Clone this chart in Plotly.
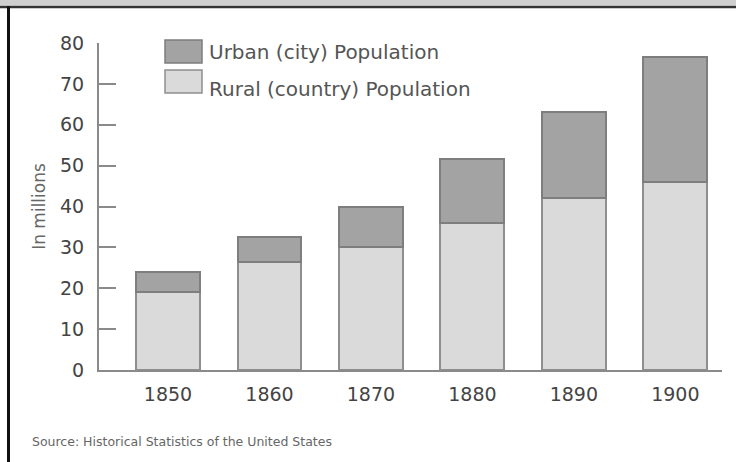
import plotly.graph_objects as go

years = ["1850", "1860", "1870", "1880", "1890", "1900"]
rural = [19.0, 26.5, 30.2, 36.0, 42.0, 46.0]
urban = [5.0, 6.0, 9.8, 15.5, 21.0, 30.6]
y_ticks = [0, 10, 20, 30, 40, 50, 60, 70, 80]

W, H = 736, 462
L, R, T, B = 99, 14, 43, 92
PW, PH = W - L - R, H - T - B


def px(x):
    return (x - L) / PW


def py(y):
    return 1 - (y - T) / PH


FONT = "DejaVu Sans, Verdana, sans-serif"
URBAN_FILL, URBAN_LINE = "#a3a3a3", "#7e7e7e"
RURAL_FILL, RURAL_LINE = "#dadada", "#8e8e8e"

fig = go.Figure()
fig.add_trace(go.Bar(x=years, y=rural, name="Rural (country) Population",
                     marker=dict(color=RURAL_FILL, line=dict(color=RURAL_LINE, width=2)),
                     width=0.63, showlegend=False))
fig.add_trace(go.Bar(x=years, y=urban, name="Urban (city) Population",
                     marker=dict(color=URBAN_FILL, line=dict(color=URBAN_LINE, width=2)),
                     width=0.63, showlegend=False))

shapes = [
    # frame: top band and dark line, left black line
    dict(type="rect", xref="paper", yref="paper", x0=px(0), x1=px(W), y0=py(0), y1=py(5.5),
         fillcolor="#cfcfcf", line=dict(width=0), layer="above"),
    dict(type="line", xref="paper", yref="paper", x0=px(0), x1=px(W), y0=py(7), y1=py(7),
         line=dict(color="#333333", width=2.5)),
    dict(type="line", xref="paper", yref="paper", x0=px(8.5), x1=px(8.5), y0=py(6), y1=py(H),
         line=dict(color="#111111", width=3)),
    # legend swatches
    dict(type="rect", xref="paper", yref="paper", x0=px(165), x1=px(202), y0=py(40), y1=py(63),
         fillcolor=URBAN_FILL, line=dict(color=URBAN_LINE, width=1.5)),
    dict(type="rect", xref="paper", yref="paper", x0=px(165), x1=px(202), y0=py(70), y1=py(93),
         fillcolor=RURAL_FILL, line=dict(color=RURAL_LINE, width=1.5)),
]

annotations = [
    dict(text="Urban (city) Population", xref="paper", yref="paper", x=px(207), y=py(52),
         xanchor="left", yanchor="middle", showarrow=False,
         font=dict(family=FONT, size=20, color="#555555")),
    dict(text="Rural (country) Population", xref="paper", yref="paper", x=px(207), y=py(89),
         xanchor="left", yanchor="middle", showarrow=False,
         font=dict(family=FONT, size=20, color="#555555")),
    dict(text="Source: Historical Statistics of the United States", xref="paper", yref="paper",
         x=px(30), y=py(441), xanchor="left", yanchor="middle", showarrow=False,
         font=dict(family=FONT, size=12.5, color="#666666")),
]

fig.update_layout(
    width=W, height=H,
    margin=dict(l=L, r=R, t=T, b=B),
    paper_bgcolor="white", plot_bgcolor="white",
    barmode="stack",
    font=dict(family=FONT, color="#444444"),
    shapes=shapes, annotations=annotations,
    xaxis=dict(type="category", range=[-0.68, 5.46], showgrid=False, zeroline=False,
               showline=True, linecolor="#8a8a8a", linewidth=2,
               ticks="", ticklabelstandoff=6, tickfont=dict(size=19, color="#444444")),
    yaxis=dict(range=[0, 80], tickvals=y_ticks, showgrid=False, zeroline=False,
               showline=True, linecolor="#8a8a8a", linewidth=2,
               ticks="inside", ticklen=17, tickwidth=1.5, tickcolor="#8a8a8a",
               ticklabelstandoff=9, tickfont=dict(size=19, color="#444444"),
               title=dict(text="In millions", standoff=10,
                          font=dict(size=17, color="#666666"))),
)

fig.write_html("out.html", config={"displayModeBar": False},
               post_script="document.body.style.margin='0px';")
